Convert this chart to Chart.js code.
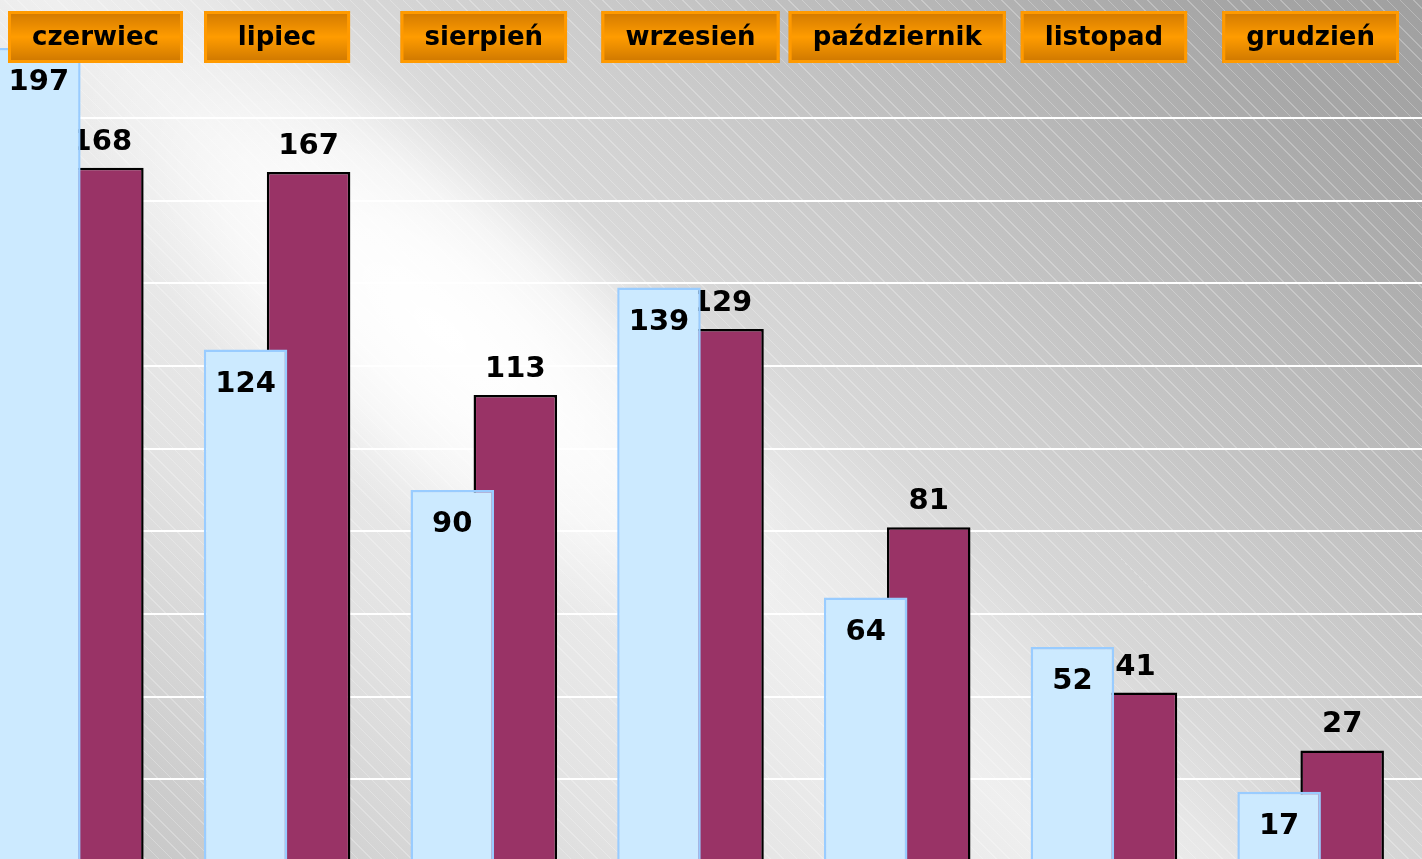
<!DOCTYPE html>
<html lang="pl">
<head>
    <meta charset="UTF-8">
    <title>Liczba zgłoszeń – czerwiec–grudzień</title>
    <script src="https://cdn.jsdelivr.net/npm/chart.js"></script>
    <style>
        html, body {
            margin: 0;
            padding: 0;
            width: 1422px;
            height: 859px;
            overflow: hidden;
        }
        body {
            position: relative;
            background: linear-gradient(40deg,
                #c4c4c4 0%, #cccccc 10%, #e2e2e2 26%, #e9e9e9 36%, #efefef 44%,
                #e8e8e8 50%, #d8d8d8 56%, #bdbdbd 75%, #a6a6a6 91%, #a0a0a0 100%);
        }
        /* delikatne ukośne kreskowanie tła */
        .hatch {
            position: absolute;
            inset: 0;
            background: repeating-linear-gradient(45deg,
                rgba(255,255,255,0) 0px, rgba(255,255,255,0) 8.4px,
                rgba(255,255,255,0.26) 8.4px, rgba(255,255,255,0.26) 9.4px);
        }
        /* białe rozświetlenie po lewej stronie */
        .glow {
            position: absolute;
            left: 0px;
            top: 150px;
            width: 880px;
            height: 360px;
            transform: rotate(40deg);
            background: radial-gradient(closest-side,
                rgba(255,255,255,1) 0%, rgba(255,255,255,0.85) 35%,
                rgba(255,255,255,0.6) 60%, rgba(255,255,255,0.25) 80%,
                rgba(255,255,255,0) 100%);
        }
        /* obszar wykresu wychodzi nieco poza lewą krawędź, jak w oryginale */
        .chart-box {
            position: absolute;
            left: -33px;
            top: 0;
            width: 1456px;
            height: 862px;
        }
    </style>
</head>
<body>
    <div class="hatch"></div>
    <div class="glow"></div>
    <div class="chart-box">
        <canvas id="chart"></canvas>
    </div>

    <script>
        // Dane
        const months = ['czerwiec', 'lipiec', 'sierpień', 'wrzesień', 'październik', 'listopad', 'grudzień'];
        const seriesBlue = [197, 124, 90, 139, 64, 52, 17];
        const seriesMaroon = [168, 167, 113, 129, 81, 41, 27];
        const gridStep = 20;
        const gridTop = 180;

        const labelFont = 'bold 29px "DejaVu Sans"';
        const boxFont = 'bold 26px "DejaVu Sans"';

        // Etykiety wartości: bordowe nad słupkiem, niebieskie wewnątrz słupka
        const valueLabels = {
            id: 'valueLabels',
            afterDatasetDraw(chart, args) {
                const ctx = chart.ctx;
                const idx = args.index;
                const values = chart.data.datasets[idx].data;
                ctx.save();
                ctx.font = labelFont;
                ctx.fillStyle = '#000';
                ctx.textAlign = 'center';
                ctx.textBaseline = 'alphabetic';
                args.meta.data.forEach((bar, i) => {
                    if (idx === 0) {
                        ctx.fillText(values[i], bar.x, bar.y + 42);
                    } else {
                        ctx.fillText(values[i], bar.x, bar.y - 18);
                    }
                });
                ctx.restore();
            }
        };

        // Pomarańczowe "przyciski" z nazwami miesięcy u góry
        const monthBoxes = {
            id: 'monthBoxes',
            afterDraw(chart) {
                const ctx = chart.ctx;
                const xs = chart.scales.x;
                const minLeft = 33 + 8;
                const top = 11, h = 52;
                ctx.save();
                ctx.font = boxFont;
                months.forEach((m, i) => {
                    const cx = xs.getPixelForValue(i);
                    const w = Math.max(ctx.measureText(m).width + 48, 146);
                    let left = cx - w / 2;
                    if (left < minLeft) left = minLeft;

                    const g = ctx.createLinearGradient(0, top, 0, top + h);
                    g.addColorStop(0, '#d07800');
                    g.addColorStop(0.5, '#ff9c00');
                    g.addColorStop(1, '#cc7600');
                    ctx.fillStyle = g;
                    ctx.fillRect(left, top, w, h);
                    ctx.strokeStyle = '#ff9a00';
                    ctx.lineWidth = 3;
                    ctx.strokeRect(left + 1.5, top + 1.5, w - 3, h - 3);

                    ctx.fillStyle = '#000';
                    ctx.textAlign = 'center';
                    ctx.textBaseline = 'middle';
                    ctx.fillText(m, left + w / 2, top + h / 2 + 1);
                });
                ctx.restore();
            }
        };

        window.onload = function() {
            const ctx = document.getElementById('chart').getContext('2d');
            new Chart(ctx, {
                type: 'bar',
                data: {
                    labels: months,
                    datasets: [
                        {
                            label: 'seria 1',
                            data: seriesBlue,
                            backgroundColor: '#cceaff',
                            borderColor: '#99ccff',
                            borderWidth: 2.5,
                            borderSkipped: 'bottom',
                            categoryPercentage: 0.61,
                            barPercentage: 1.325
                        },
                        {
                            label: 'seria 2',
                            data: seriesMaroon,
                            backgroundColor: '#993366',
                            borderColor: '#000000',
                            borderWidth: 2.5,
                            borderSkipped: 'bottom',
                            categoryPercentage: 0.61,
                            barPercentage: 1.325
                        }
                    ]
                },
                options: {
                    responsive: true,
                    maintainAspectRatio: false,
                    animation: false,
                    layout: { padding: 0 },
                    plugins: {
                        legend: { display: false },
                        tooltip: { enabled: false }
                    },
                    scales: {
                        x: { display: false },
                        y: {
                            position: 'right',
                            min: 0,
                            max: 208.6,
                            ticks: { display: false, stepSize: gridStep },
                            border: { display: false },
                            grid: {
                                drawTicks: true,
                                tickLength: 9,
                                lineWidth: 2,
                                color: c => (c.tick && c.tick.value > 0 && c.tick.value <= gridTop)
                                    ? '#ffffff' : 'rgba(0,0,0,0)'
                            },
                            afterFit: s => { s.width = 9; }
                        }
                    }
                },
                plugins: [valueLabels, monthBoxes]
            });
        };
    </script>
</body>
</html>
